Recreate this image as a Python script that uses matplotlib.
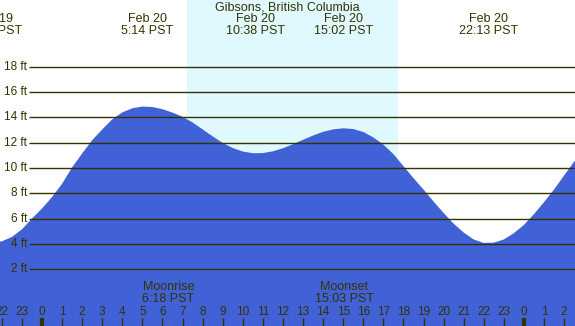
import numpy as np
import matplotlib
matplotlib.use("Agg")
import matplotlib.pyplot as plt

# hours since Feb 20 00:00 PST, tide height in ft
tide_hours = [-2.5, -2.0, -1.5, -1.0, -0.5, 0.0, 0.5, 1.0, 1.5, 2.0,
              2.5, 3.0, 3.5, 4.0, 4.5, 5.0, 5.5, 6.0, 6.5, 7.0,
              7.5, 8.0, 8.5, 9.0, 9.5, 10.0, 10.5, 11.0, 11.5, 12.0,
              12.5, 13.0, 13.5, 14.0, 14.5, 15.0, 15.5, 16.0, 16.5, 17.0,
              17.5, 18.0, 18.5, 19.0, 19.5, 20.0, 20.5, 21.0, 21.5, 22.0,
              22.5, 23.0, 23.5, 24.0, 24.5, 25.0, 25.5, 26.0, 26.5, 27.0]
tide_ft = [4.12, 4.2, 4.55, 5.15, 6.0, 6.8, 7.7, 8.75, 10.05, 11.15,
           12.2, 13.05, 13.85, 14.4, 14.72, 14.86, 14.82, 14.65, 14.38, 14.05,
           13.6, 13.05, 12.5, 11.98, 11.58, 11.3, 11.17, 11.18, 11.32, 11.56,
           11.88, 12.23, 12.57, 12.86, 13.05, 13.14, 13.08, 12.85, 12.42, 11.85,
           11.1, 10.15, 9.2, 8.3, 7.35, 6.45, 5.6, 4.9, 4.35, 4.08,
           4.1, 4.35, 4.85, 5.5, 6.35, 7.3, 8.3, 9.4, 10.5, 11.5]

# tide extremes shown at the top
extreme_hours = [-2.44, 5.23, 10.63, 15.03, 22.22]
extreme_dates = ["Feb 19", "Feb 20", "Feb 20", "Feb 20", "Feb 20"]
extreme_times = ["21:34 PST", "5:14 PST", "10:38 PST", "15:02 PST", "22:13 PST"]

sunrise, sunset = 7.22, 17.73
moon_hours = [6.30, 15.05]
moon_names = ["Moonrise", "Moonset"]
moon_times = ["6:18 PST", "15:03 PST"]

grid_ft = [2, 4, 6, 8, 10, 12, 14, 16, 18]
hour_ticks = list(range(-2, 27))

title = "Gibsons, British Columbia"

sky = "#B0C4DE"
day = "#E0F8FF"
water = "#4161D6"
ink = "#333300"

W, H = 575, 326
px_per_hr = 20.08
x0 = 42.0            # pixel of midnight Feb 20
px_per_ft = 12.65
y0 = 294.5           # pixel of 0 ft


def hx(px):
    return (px - x0) / px_per_hr


def fy(py):
    return (y0 - py) / px_per_ft


plt.rcParams['font.family'] = ['Liberation Sans', 'DejaVu Sans']

fig = plt.figure(figsize=(W / 100, H / 100), dpi=100)
ax = fig.add_axes([0, 0, 1, 1])
ax.set_xlim(hx(0), hx(W))
ax.set_ylim(fy(H), fy(0))
ax.set_facecolor(sky)
ax.axis("off")

ax.axvspan(sunrise, sunset, color=day, zorder=1, lw=0)
ax.fill_between(tide_hours, fy(H) - 5, tide_ft, color=water, lw=0, zorder=2)

# depth grid with labels
ax.hlines(grid_ft, hx(29), hx(W) + 1, color=ink, lw=1, zorder=3)
for g in grid_ft:
    ax.text(hx(27), g, f"{g} ft", ha="right", va="center", fontsize=8.5,
            color=ink, zorder=4)

# title and extreme labels
ax.text(hx(W / 2), fy(8), title, ha="center", va="center", fontsize=9,
        color=ink, zorder=4)
for h, d, t in zip(extreme_hours, extreme_dates, extreme_times):
    ax.text(h, fy(19), d, ha="center", va="center", fontsize=9, color=ink, zorder=4)
    ax.text(h, fy(31), t, ha="center", va="center", fontsize=9, color=ink, zorder=4)

# moon labels
for h, n, t in zip(moon_hours, moon_names, moon_times):
    ax.text(h, fy(287), n, ha="center", va="center", fontsize=9, color=ink, zorder=4)
    ax.text(h, fy(299), t, ha="center", va="center", fontsize=9, color=ink, zorder=4)
    ax.vlines(h, fy(H), fy(319), color="#5a6a9a", lw=0.8, zorder=3)

# hour ticks along the bottom
for h in hour_ticks:
    lw = 3 if h % 24 == 0 else 1
    ax.vlines(h, fy(H), fy(318), color=ink, lw=lw, zorder=3)
    ax.text(h, fy(312), str(h % 24), ha="center", va="center", fontsize=8.5,
            color=ink, zorder=4)

fig.savefig("out.png", dpi=100)
